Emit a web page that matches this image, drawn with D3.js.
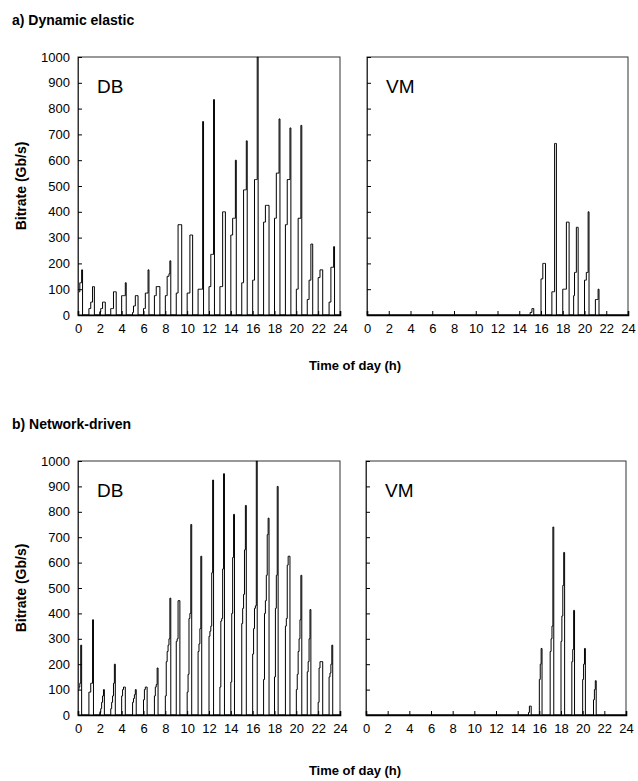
<!DOCTYPE html>
<html><head><meta charset="utf-8">
<script src="https://cdn.jsdelivr.net/npm/d3@7"></script>
<style>
body{margin:0;background:#fff;}
text{font-family:"Liberation Sans",Arial,sans-serif;fill:#000;}
</style></head>
<body><svg id="c" width="638" height="781"></svg>
<script>
// ---- data (Gb/s, 5-minute samples starting at each full hour) ----
const xTicks = [0,2,4,6,8,10,12,14,16,18,20,22,24];
const yTicks = [0,100,200,300,400,500,600,700,800,900,1000];
const sampleMinutes = 5;

const dbElastic = [
 [90,90,125,125,175],[25,25,50,50,110,110],[12,25,25,50,50,50],[25,25,25,90,90,90],
 [75,75,75,75,125],[10,35,35,75,75,75],[25,25,85,85,85,175],[75,75,110,110,110,110],
 [75,75,150,150,160,210],[85,85,350,350,350,350],[85,85,85,310,310,310],[100,100,100,100,100,750],
 [110,110,235,235,235,835],[110,110,110,400,400,400],[310,310,375,375,375,600],[125,125,485,485,485,675],
 [135,135,525,525,525,1000],[360,360,425,425,425,425],[375,375,550,550,550,760],[350,350,525,525,525,725],
 [100,100,375,375,375,735],[60,60,135,135,275,275],[145,145,175,175,175],[50,50,185,185,185,265]
];
const vmElastic = [
 [],[],[],[],[],[],[],[],[],[],[],[],[],[],[],
 [10,10,25,25],[140,140,200,200,200],[90,90,90,665,665],[100,100,100,100,360,360,360],
 [75,165,165,340,340],[135,135,165,165,400],[60,60,60,100],[],[]
];
const dbNetwork = [
 [100,110,125,275],[90,90,125,125,375],[10,25,50,75,100],[25,50,75,125,200],
 [75,100,110,110],[50,65,80,100],[60,100,110,110],[75,110,120,185],
 [75,210,250,275,300,460],[290,300,450,450],[90,160,380,400,750],[250,280,340,625],
 [310,330,350,560,925],[110,370,380,575,950],[130,400,620,790],[360,420,475,650,825],
 [240,340,420,430,1000],[140,400,450,550,710,775],[150,420,550,900],[350,380,590,625,625],
 [100,160,250,300,375,550],[170,210,300,415],[50,185,210,210,210],[150,165,200,275]
];
const vmNetwork = [
 [],[],[],[],[],[],[],[],[],[],[],[],[],[],[],
 [10,35,35],[140,200,262],[250,300,350,740],[290,390,510,640],
 [210,258,412],[140,200,262],[60,100,135],[],[]
];

const svg = d3.select("#c");

function toPoints(pulses){
  const pts = [[0,0]];
  const dt = sampleMinutes/60;
  pulses.forEach((vals,h)=>{
    if(!vals.length) return;
    pts.push([h,0]);
    vals.forEach((v,i)=>pts.push([h+i*dt,v]));
    pts.push([h+vals.length*dt,0]);
  });
  pts.push([24,0]);
  return pts;
}

let clipId = 0;
function panel(x0,x1,y0,y1,pulses,label,showYLabels){
  const x = d3.scaleLinear().domain([0,24]).range([x0,x1]);
  const y = d3.scaleLinear().domain([0,1000]).range([y1,y0]);
  const g = svg.append("g");
  const id = "clip"+(clipId++);
  g.append("clipPath").attr("id",id).append("rect")
    .attr("x",x0).attr("y",y0-0.5).attr("width",x1-x0).attr("height",y1-y0+1);
  g.append("rect").attr("x",x0).attr("y",y0).attr("width",x1-x0).attr("height",y1-y0)
    .attr("fill","none").attr("stroke","#333").attr("stroke-width",1);
  const line = d3.line().x(d=>x(d[0])).y(d=>y(d[1])).curve(d3.curveStepAfter);
  g.append("path").datum(toPoints(pulses)).attr("clip-path","url(#"+id+")")
    .attr("d",line).attr("fill","none").attr("stroke","#000").attr("stroke-width",1);
  const ya = g.append("g").attr("transform","translate("+x0+",0)")
    .call(d3.axisLeft(y).tickValues(yTicks).tickSize(-4).tickPadding(8)
      .tickFormat(showYLabels? d3.format("d") : ""));
  ya.select(".domain").attr("stroke","#333");
  ya.selectAll("text").style("font-size","13px");
  const xa = g.append("g").attr("transform","translate(0,"+y1+")")
    .call(d3.axisBottom(x).tickValues(xTicks).tickSize(-4).tickPadding(9).tickFormat(d3.format("d")));
  xa.select(".domain").attr("stroke","#000").attr("stroke-width",1.6);
  xa.selectAll("text").style("font-size","13px");
  g.append("text").attr("x",x0+19).attr("y",y0+36).text(label).style("font-size","19px");
}

// a) Dynamic elastic
svg.append("text").attr("x",12).attr("y",25).text("a) Dynamic elastic")
  .style("font-size","14px").style("font-weight","bold");
panel(78,340,57,315,dbElastic,"DB",true);
panel(367,628,57,315,vmElastic,"VM",false);
svg.append("text").attr("x",355).attr("y",370).attr("text-anchor","middle")
  .text("Time of day (h)").style("font-size","13px").style("font-weight","bold");
svg.append("text").attr("transform","translate(26,186) rotate(-90)").attr("text-anchor","middle")
  .text("Bitrate (Gb/s)").style("font-size","14px").style("font-weight","bold");

// b) Network-driven
svg.append("text").attr("x",12).attr("y",429).text("b) Network-driven")
  .style("font-size","14px").style("font-weight","bold");
panel(78,340,461,715,dbNetwork,"DB",true);
panel(366,626,461,715,vmNetwork,"VM",false);
svg.append("text").attr("x",355).attr("y",775).attr("text-anchor","middle")
  .text("Time of day (h)").style("font-size","13px").style("font-weight","bold");
svg.append("text").attr("transform","translate(26,588) rotate(-90)").attr("text-anchor","middle")
  .text("Bitrate (Gb/s)").style("font-size","14px").style("font-weight","bold");
</script></body></html>
